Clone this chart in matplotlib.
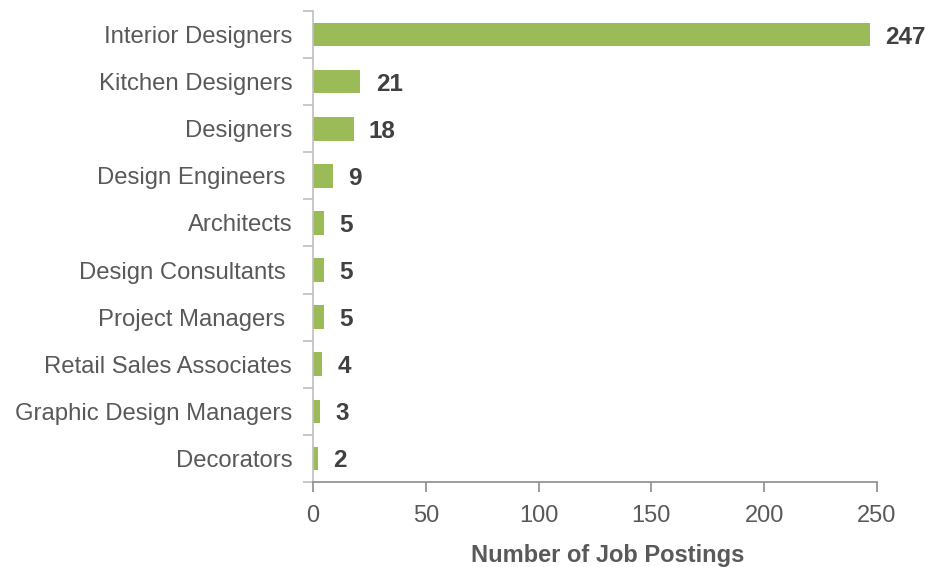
import numpy as np
import matplotlib
matplotlib.use("Agg")
import matplotlib.pyplot as plt

plt.rcParams['font.family'] = ['Liberation Sans', 'DejaVu Sans']

occupations = [
    "Interior Designers",
    "Kitchen Designers",
    "Designers",
    "Design Engineers ",
    "Architects",
    "Design Consultants ",
    "Project Managers ",
    "Retail Sales Associates",
    "Graphic Design Managers",
    "Decorators",
]
postings = [247, 21, 18, 9, 5, 5, 5, 4, 3, 2]
x_ticks = [0, 50, 100, 150, 200, 250]

bar_color = "#9BBB59"
text_grey = "#595959"
label_dark = "#404040"

fig = plt.figure(figsize=(9.35, 5.67), dpi=100)
ax = fig.add_axes([313 / 935, 1 - 482 / 567, 564 / 935, 471 / 567])

pos = np.arange(len(occupations))
ax.barh(pos, postings, height=0.5, color=bar_color)

for y, v in zip(pos, postings):
    ax.annotate(str(v), xy=(v, y), xytext=(11, 0), textcoords="offset points",
                ha="left", va="center_baseline", fontsize=17.5,
                fontweight="bold", color=label_dark)

ax.set_xlim(0, 250)
ax.set_ylim(len(occupations) - 0.5, -0.5)
ax.set_xticks(x_ticks)
ax.set_yticks(pos)
ax.set_yticklabels(occupations)
ax.set_yticks(np.arange(len(occupations) + 1) - 0.5, minor=True)

ax.tick_params(axis="y", which="major", length=0, pad=15, labelsize=17.2,
               labelcolor=text_grey)
ax.tick_params(axis="y", which="minor", length=7, color="#BFBFBF", width=1.2)
ax.tick_params(axis="x", length=7, width=1.2, color="#8C8C8C", pad=9.5,
               labelsize=17, labelcolor=text_grey)

for side in ["top", "right"]:
    ax.spines[side].set_visible(False)
ax.spines["left"].set_color("#BFBFBF")
ax.spines["left"].set_linewidth(1.2)
ax.spines["bottom"].set_color("#8C8C8C")
ax.spines["bottom"].set_linewidth(1.2)

ax.set_xlabel("Number of Job Postings", fontsize=17, fontweight="bold",
              color=text_grey)
ax.xaxis.set_label_coords(0.523, -0.131)

fig.savefig("out.png", dpi=100)
